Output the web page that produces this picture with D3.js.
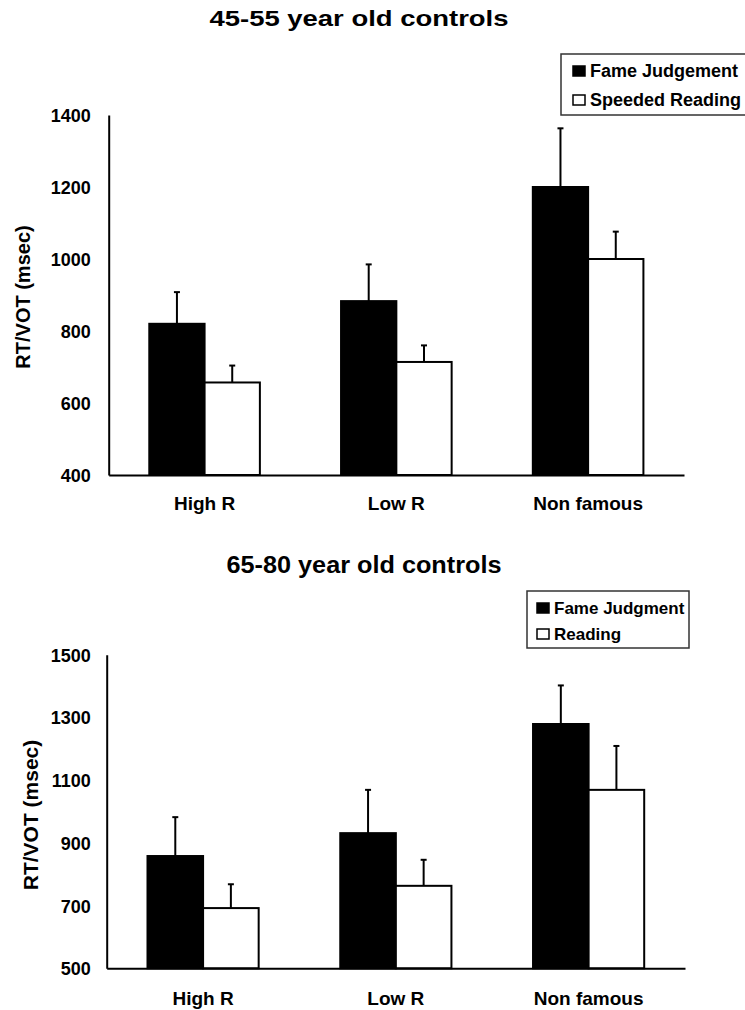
<!DOCTYPE html>
<html>
<head>
<meta charset="utf-8">
<script src="https://cdn.jsdelivr.net/npm/d3@7"></script>
<style>
  body { margin: 0; background: #fff; }
  text { font-family: "Liberation Sans", Arial, sans-serif; font-weight: bold; fill: #000; }
</style>
</head>
<body>
<div id="chart"></div>
<script>
// data
const categories = ["High R", "Low R", "Non famous"];

const fameTop = [820, 883, 1200];
const fameTopErr = [88, 102, 163];
const readTop = [657, 714, 1000];
const readTopErr = [47, 46, 76];
const ticksTop = [400, 600, 800, 1000, 1200, 1400];

const fameBottom = [858, 931, 1279];
const fameBottomErr = [124, 138, 123];
const readBottom = [692, 763, 1069];
const readBottomErr = [76, 83, 140];
const ticksBottom = [500, 700, 900, 1100, 1300, 1500];

const svg = d3.select("#chart")
    .append("svg")
    .attr("width", 745)
    .attr("height", 1010);

function drawPanel(p) {
    const g = svg.append("g");

    const x = d3.scaleBand()
        .domain(categories)
        .range([p.left, p.right]);

    const xs = d3.scaleBand()
        .domain(["fame", "read"])
        .range([0, x.bandwidth()])
        .paddingOuter(0.734);

    const y = d3.scaleLinear()
        .domain([ticksOf(p)[0], ticksOf(p)[ticksOf(p).length - 1]])
        .range([p.bottom, p.top]);

    // title
    g.append("text")
        .attr("x", p.titleX)
        .attr("y", p.titleY)
        .attr("text-anchor", "middle")
        .attr("textLength", p.titleLen)
        .attr("lengthAdjust", "spacingAndGlyphs")
        .style("font-size", p.titleSize + "px")
        .text(p.title);

    // bars
    const rows = categories.map((c, i) => ({
        cat: c,
        vals: [
            { key: "fame", v: p.fame[i], e: p.fameErr[i] },
            { key: "read", v: p.read[i], e: p.readErr[i] }
        ]
    }));

    const grp = g.selectAll(".grp")
        .data(rows)
        .enter().append("g")
        .attr("transform", d => `translate(${x(d.cat)},0)`);

    // error bars (upper only)
    grp.selectAll(".err")
        .data(d => d.vals)
        .enter().append("line")
        .attr("x1", d => xs(d.key) + xs.bandwidth() / 2)
        .attr("x2", d => xs(d.key) + xs.bandwidth() / 2)
        .attr("y1", d => y(d.v))
        .attr("y2", d => y(d.v + d.e))
        .attr("stroke", "#000")
        .attr("stroke-width", 2);

    grp.selectAll(".cap")
        .data(d => d.vals)
        .enter().append("line")
        .attr("x1", d => xs(d.key) + xs.bandwidth() / 2 - 3)
        .attr("x2", d => xs(d.key) + xs.bandwidth() / 2 + 3)
        .attr("y1", d => y(d.v + d.e))
        .attr("y2", d => y(d.v + d.e))
        .attr("stroke", "#000")
        .attr("stroke-width", 2);

    grp.selectAll("rect")
        .data(d => d.vals)
        .enter().append("rect")
        .attr("x", d => xs(d.key))
        .attr("y", d => y(d.v))
        .attr("width", xs.bandwidth())
        .attr("height", d => p.bottom - y(d.v))
        .attr("fill", d => d.key === "fame" ? "#000" : "#fff")
        .attr("stroke", "#000")
        .attr("stroke-width", 2);

    // axes
    const yAxis = g.append("g")
        .attr("transform", `translate(${p.left},0)`)
        .call(d3.axisLeft(y).tickValues(ticksOf(p)).tickSize(0).tickSizeOuter(0).tickPadding(p.tickPad).tickFormat(d3.format("d")));
    yAxis.select(".domain").attr("stroke-width", 2);
    yAxis.selectAll("text").style("font-size", "18px").attr("dy", "0.36em");

    const xAxis = g.append("g")
        .attr("transform", `translate(0,${p.bottom})`)
        .call(d3.axisBottom(x).tickSize(0).tickSizeOuter(0).tickPadding(p.catPad));
    xAxis.select(".domain").attr("stroke-width", 2);
    xAxis.selectAll("text").style("font-size", "19px");

    // y axis label
    g.append("text")
        .attr("transform", `translate(${p.labelX},${p.labelY}) rotate(-90)`)
        .attr("text-anchor", "middle")
        .style("font-size", p.labelSize + "px")
        .text("RT/VOT (msec)");

    // legend
    const lg = g.append("g");
    lg.append("rect")
        .attr("x", p.legX)
        .attr("y", p.legY)
        .attr("width", p.legW)
        .attr("height", p.legH)
        .attr("fill", "#fff")
        .attr("stroke", "#333")
        .attr("stroke-width", 1.5);

    p.legend.forEach((name, i) => {
        const yy = p.legY + p.legRow0 + i * p.legStep;
        lg.append("rect")
            .attr("x", p.legX + p.legPad)
            .attr("y", yy - 11)
            .attr("width", 12)
            .attr("height", 10)
            .attr("fill", i === 0 ? "#000" : "#fff")
            .attr("stroke", "#000")
            .attr("stroke-width", 1.5);
        lg.append("text")
            .attr("x", p.legX + p.legPad + 17)
            .attr("y", yy)
            .style("font-size", p.legSize + "px")
            .text(name);
    });
}

function ticksOf(p) { return p.ticks; }

drawPanel({
    title: "45-55 year old controls", titleX: 359, titleY: 26, titleLen: 299, titleSize: 22,
    left: 108.7, right: 684, top: 115, bottom: 475,
    ticks: ticksTop, tickPad: 18, catPad: 22,
    fame: fameTop, fameErr: fameTopErr, read: readTop, readErr: readTopErr,
    labelX: 30, labelY: 297, labelSize: 20,
    legend: ["Fame Judgement", "Speeded Reading"],
    legX: 561, legY: 54, legW: 190, legH: 61, legPad: 12, legRow0: 23, legStep: 29, legSize: 18
});

drawPanel({
    title: "65-80 year old controls", titleX: 364, titleY: 573, titleLen: 275, titleSize: 23,
    left: 106.7, right: 685, top: 654.7, bottom: 968.3,
    ticks: ticksBottom, tickPad: 16, catPad: 23,
    fame: fameBottom, fameErr: fameBottomErr, read: readBottom, readErr: readBottomErr,
    labelX: 38, labelY: 815, labelSize: 21,
    legend: ["Fame Judgment", "Reading"],
    legX: 527, legY: 591, legW: 162, legH: 57, legPad: 10, legRow0: 23, legStep: 26, legSize: 17
});
</script>
</body>
</html>
